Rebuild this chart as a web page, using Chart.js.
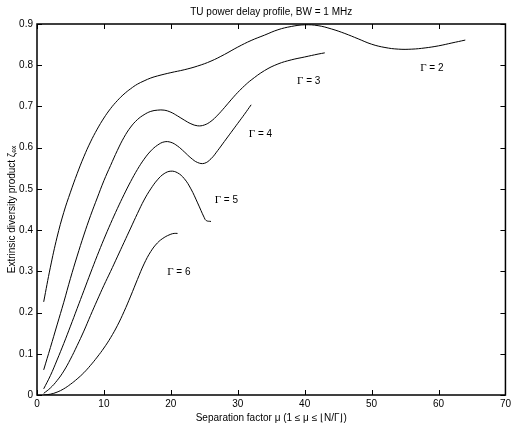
<!DOCTYPE html>
<html><head><meta charset="utf-8">
<script src="https://cdn.jsdelivr.net/npm/chart.js@4/dist/chart.umd.min.js"></script>
<style>html,body{margin:0;padding:0;background:#fff}</style>
</head><body>
<canvas id="c" width="514" height="431" style="width:514px;height:431px;display:block"></canvas>
<script>
const titleText = "TU power delay profile, BW = 1 MHz";
const xTitle = "Separation factor \u03BC (1 \u2264 \u03BC \u2264 \u230AN/\u0393\u230B)";
const yTitle = "Extrinsic diversity product \u03B6\u2091\u2093";
const xTicks = [0,10,20,30,40,50,60,70];
const yTicks = [0,0.1,0.2,0.3,0.4,0.5,0.6,0.7,0.8,0.9];

const mu2   = [1,2,3,4,5,6,7,8,9,10,11,12,13,14,15,16,17,18,20,22,24,26,28,30,32,34,36,38,40,42,44,46,48,50,52,54,56,58,60,62,64];
const zeta2 = [0.226,0.31,0.383,0.443,0.492,0.537,0.578,0.614,0.645,0.672,0.695,0.714,0.73,0.743,0.754,0.762,0.769,0.774,0.782,0.789,0.798,0.81,0.826,0.844,0.860,0.873,0.886,0.894,0.898,0.896,0.888,0.877,0.864,0.851,0.843,0.839,0.839,0.842,0.847,0.854,0.861];

const mu3   = [1,2,3,4,5,6,7,8,9,10,11,12,13,14,15,16,17,18,19,20,21,22,23,24,25,26,27,28,29,30,31,32,34,36,38,40,42,43];
const zeta3 = [0.061,0.115,0.17,0.225,0.283,0.337,0.388,0.435,0.478,0.52,0.557,0.593,0.625,0.65,0.668,0.68,0.688,0.691,0.691,0.686,0.677,0.667,0.658,0.653,0.655,0.664,0.679,0.697,0.716,0.734,0.75,0.764,0.787,0.803,0.813,0.82,0.827,0.83];

const mu4   = [1,2,3,4,5,6,7,8,9,10,11,12,13,14,15,16,17,18,19,20,21,22,23,24,25,26,27,28,29,30,31,32];
const zeta4 = [0.015,0.047,0.085,0.125,0.167,0.21,0.253,0.296,0.338,0.378,0.416,0.452,0.486,0.518,0.547,0.572,0.592,0.606,0.614,0.613,0.604,0.59,0.575,0.564,0.562,0.573,0.593,0.615,0.637,0.659,0.681,0.704];

const mu5   = [1,2,3,4,5,6,7,8,9,10,11,12,13,14,15,16,17,18,19,20,21,22,23,24,25,25.3,26];
const zeta5 = [0.004,0.017,0.035,0.058,0.087,0.12,0.155,0.193,0.23,0.266,0.3,0.335,0.37,0.405,0.44,0.473,0.5,0.522,0.537,0.543,0.539,0.525,0.5,0.466,0.43,0.423,0.421];

const mu6   = [1,2,3,4,5,6,7,8,9,10,11,12,13,14,15,16,17,18,19,20,20.5,21];
const zeta6 = [0.0,0.002,0.007,0.015,0.026,0.039,0.054,0.072,0.092,0.114,0.139,0.168,0.202,0.24,0.28,0.318,0.348,0.369,0.382,0.39,0.392,0.392];

const seriesNums = ["2","3","4","5","6"];
const labelAt = [[59.0,0.793],[40.6,0.762],[33.4,0.633],[28.3,0.473],[21.2,0.298]];

const FONT = '"Liberation Sans", Arial, Helvetica, sans-serif';
const SERIF = '"Liberation Serif", "Times New Roman", serif';
const pts = (xs, ys) => xs.map((x,i)=>({x:x, y:ys[i]}));
const ds = (xs, ys, lbl) => ({label:lbl, data:pts(xs,ys), borderColor:'#000', borderWidth:1, pointRadius:0, fill:false, tension:0.4});

const decor = {
  id:'decor',
  afterDraw(chart){
    const ctx = chart.ctx, a = chart.chartArea, xs = chart.scales.x, ys = chart.scales.y;
    ctx.save();
    ctx.strokeStyle = '#000';
    ctx.lineWidth = 1;
    const TL = 5;
    xTicks.forEach(v=>{
      const p = Math.round(xs.getPixelForValue(v))+0.5;
      ctx.beginPath(); ctx.moveTo(p,a.bottom); ctx.lineTo(p,a.bottom-TL); ctx.stroke();
      ctx.beginPath(); ctx.moveTo(p,a.top); ctx.lineTo(p,a.top+TL); ctx.stroke();
    });
    yTicks.forEach(v=>{
      const p = Math.round(ys.getPixelForValue(v))+0.5;
      ctx.beginPath(); ctx.moveTo(a.left,p); ctx.lineTo(a.left+TL,p); ctx.stroke();
      ctx.beginPath(); ctx.moveTo(a.right,p); ctx.lineTo(a.right-TL,p); ctx.stroke();
    });
    ctx.lineWidth = 1.5;
    ctx.strokeRect(a.left, a.top, a.right-a.left, a.bottom-a.top);
    ctx.fillStyle = '#000';
    ctx.font = '10px ' + FONT;
    ctx.textAlign = 'center'; ctx.textBaseline = 'middle';
    ctx.fillText(titleText, (a.left+a.right)/2, 12);
    ctx.fillText(xTitle, (a.left+a.right)/2, 418);
    ctx.save();
    ctx.translate(12, (a.top+a.bottom)/2);
    ctx.rotate(-Math.PI/2);
    ctx.fillText(yTitle, 0, 0);
    ctx.restore();
    ctx.textAlign = 'left';
    seriesNums.forEach((n,i)=>{
      const cx = xs.getPixelForValue(labelAt[i][0]), cy = ys.getPixelForValue(labelAt[i][1]);
      ctx.font = '11px ' + SERIF;
      const g = '\u0393', gw = ctx.measureText(g).width;
      ctx.font = '10px ' + FONT;
      const rest = ' = ' + n, rw = ctx.measureText(rest).width;
      const x0 = cx - (gw + rw)/2;
      ctx.font = '11px ' + SERIF;
      ctx.fillText(g, x0, cy);
      ctx.font = '10px ' + FONT;
      ctx.fillText(rest, x0 + gw, cy);
    });
    ctx.restore();
  }
};

new Chart(document.getElementById('c'), {
  type:'line',
  data:{datasets:[ds(mu2,zeta2,"G2"),ds(mu3,zeta3,"G3"),ds(mu4,zeta4,"G4"),ds(mu5,zeta5,"G5"),ds(mu6,zeta6,"G6")]},
  options:{
    responsive:false, animation:false, devicePixelRatio:1,
    layout:{padding:{top:24,right:5,left:0,bottom:0}},
    plugins:{legend:{display:false}, title:{display:false}, tooltip:{enabled:false}},
    scales:{
      x:{type:'linear', min:0, max:70,
        afterBuildTicks(s){ s.ticks = xTicks.map(v=>({value:v})); },
        afterFit(s){ s.height = 36; },
        grid:{display:false, drawTicks:false}, border:{display:false},
        ticks:{color:'#000', padding:3, maxRotation:0, font:{family:FONT, size:10}, callback:v=>String(v)}},
      y:{type:'linear', min:0, max:0.9,
        afterBuildTicks(s){ s.ticks = yTicks.map(v=>({value:v})); },
        afterFit(s){ s.width = 37; },
        grid:{display:false, drawTicks:false}, border:{display:false},
        ticks:{color:'#000', padding:4, font:{family:FONT, size:10}, callback:v=>String(Math.round(v*10)/10)}}
    }
  },
  plugins:[decor]
});
</script>
</body></html>
